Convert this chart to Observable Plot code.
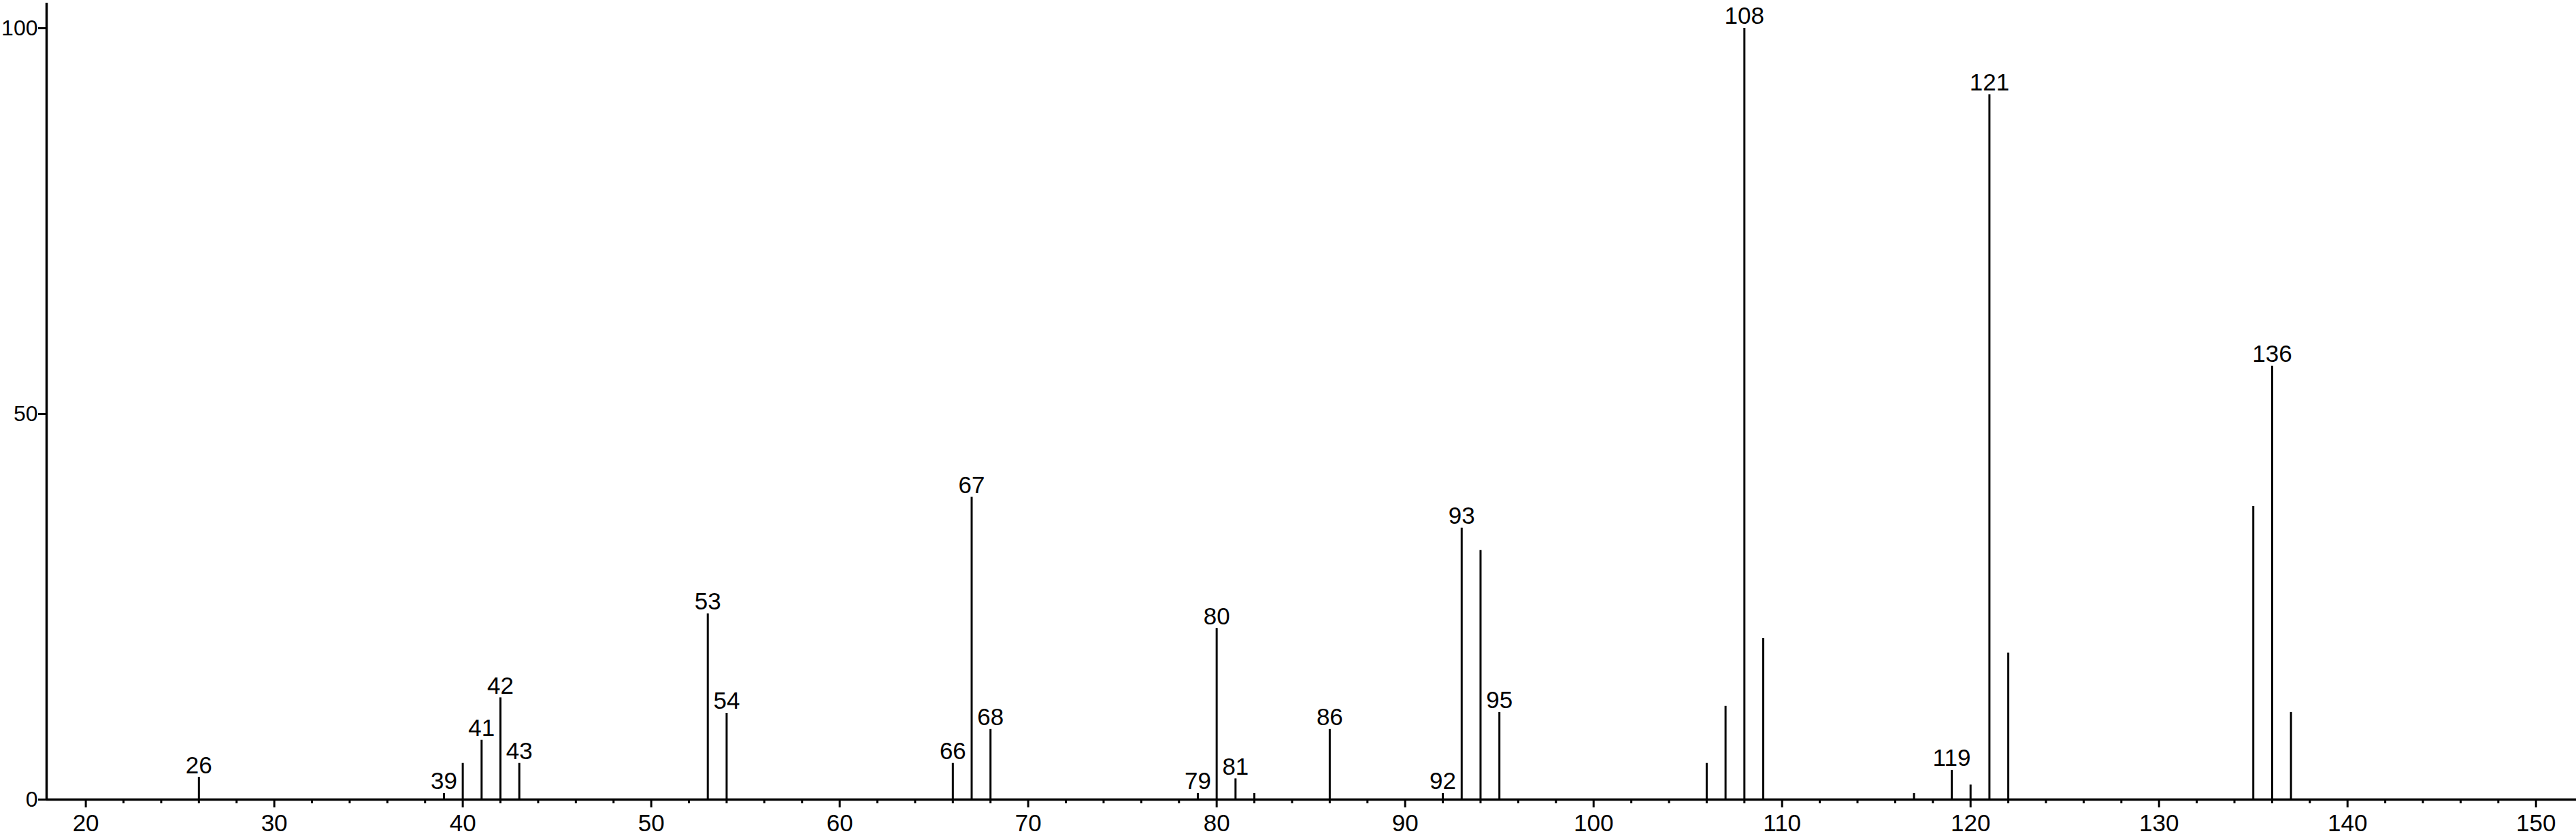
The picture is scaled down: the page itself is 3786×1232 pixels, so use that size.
<!DOCTYPE html>
<html>
<head>
<meta charset="utf-8">
<script src="https://cdn.jsdelivr.net/npm/d3@7"></script>
<script src="https://cdn.jsdelivr.net/npm/@observablehq/plot@0.6"></script>
<style>
  html, body { margin: 0; padding: 0; background: #fff; }
  #chart svg { display: block; }
</style>
</head>
<body>
<div id="chart"></div>
<script>
// m/z values of the peaks
const mz = [26, 39, 40, 41, 42, 43, 53, 54, 66, 67, 68, 79, 80, 81, 82, 86, 92, 93, 94, 95,
            106, 107, 108, 109, 117, 119, 120, 121, 122, 135, 136, 137];
// relative intensities (%)
const intensity = [2.9, 0.8, 4.7, 7.7, 13.2, 4.7, 24.1, 11.2, 4.7, 39.2, 9.1, 0.8, 22.2, 2.7, 0.8, 9.1, 0.8, 35.2, 32.3, 11.3,
                   4.7, 12.1, 100, 20.9, 0.8, 3.8, 1.9, 91.4, 19.0, 38.0, 56.2, 11.3];
// peaks carrying a text label
const labeledPeaks = [26, 39, 41, 42, 43, 53, 54, 66, 67, 68, 79, 80, 81, 86, 92, 93, 95, 108, 119, 121, 136];
// axis ticks
const xMajorTicks = [20, 30, 40, 50, 60, 70, 80, 90, 100, 110, 120, 130, 140, 150];
const xMinorTicks = d3.range(22, 150, 2).filter(v => v % 10 !== 0);
const yTicks = [0, 50, 100];

const peaks = mz.map((m, i) => ({mz: m, intensity: intensity[i]}));
const labels = peaks.filter(d => labeledPeaks.includes(d.mz));

const xDomain = [17.92, 152.14];
const yDomain = [0, 103.26];

const chart = Plot.plot({
  width: 3786,
  height: 1232,
  marginLeft: 68,
  marginRight: 0,
  marginTop: 4,
  marginBottom: 57,
  style: {fontFamily: "'Liberation Sans', Arial, sans-serif", fontSize: "36px", background: "#fff", color: "#000"},
  x: {domain: xDomain, label: null},
  y: {domain: yDomain, label: null},
  marks: [
    Plot.axisX({ticks: xMajorTicks, tickSize: 12, tickPadding: 10, strokeWidth: 3, fontSize: 35, label: null}),
    Plot.axisX({ticks: xMinorTicks, tickSize: 6, strokeWidth: 3, text: null, label: null}),
    Plot.axisY({ticks: yTicks, tickSize: 12, tickPadding: 1, strokeWidth: 3, fontSize: 32, label: null}),
    Plot.ruleX([xDomain[0]], {y1: 0, y2: yDomain[1], stroke: "#000", strokeWidth: 3.5}),
    Plot.ruleY([0], {stroke: "#000", strokeWidth: 3.5}),
    Plot.ruleX(peaks, {x: "mz", y1: 0, y2: "intensity", stroke: "#000", strokeWidth: 3}),
    Plot.text(labels, {x: "mz", y: "intensity", text: d => String(d.mz), lineAnchor: "bottom", dy: -6, fontSize: 35, fill: "#000"})
  ]
});
document.getElementById("chart").appendChild(chart);
</script>
</body>
</html>
